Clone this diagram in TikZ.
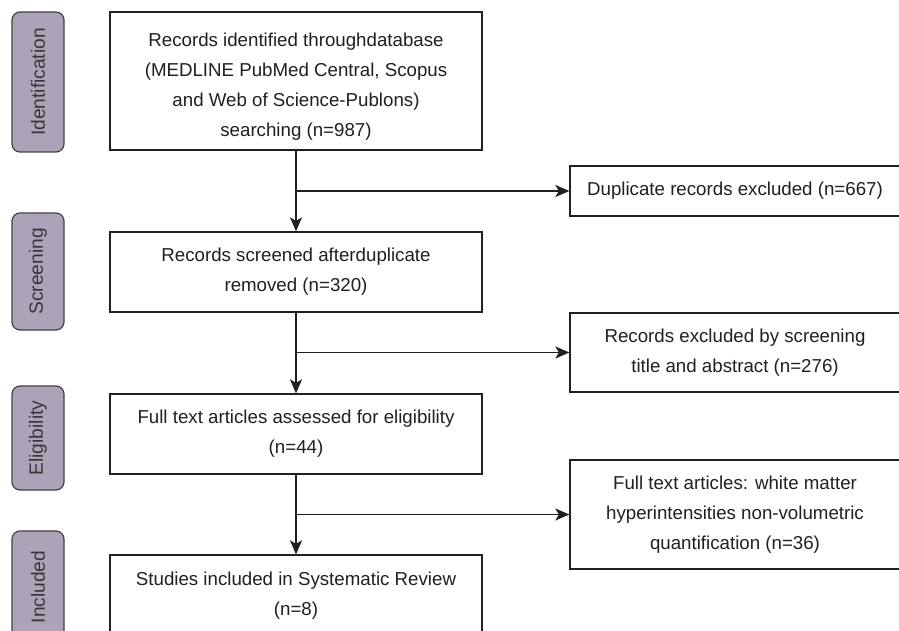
\documentclass[tikz,border=0pt]{standalone}
\usepackage{fontspec}
\setmainfont{Liberation Sans}
\usetikzlibrary{arrows.meta}
\definecolor{tabfill}{HTML}{ADA3B8}
\definecolor{ink}{HTML}{231F20}
\begin{document}
\begin{tikzpicture}[x=1pt,y=-1pt,
  box/.style={draw=ink, line width=1.3pt, text=ink, rectangle, inner sep=0pt,
    align=center, font=\fontsize{18.7}{30}\selectfont},
  tab/.style={draw=ink!85, fill=tabfill, rounded corners=8pt, line width=1.2pt,
    rotate=90, minimum height=52pt, inner sep=0pt, text=ink!90,
    font=\fontsize{19.2}{22}\selectfont},
  arr/.style={draw=ink, line width=1.4pt, -{Stealth[length=14pt,width=12pt,inset=3.5pt]}}]
\clip (0,0) rectangle (899,631);
\fill[white] (0,0) rectangle (899,631);
% phase tabs
\node[tab, minimum width=140pt] (t1) at (38,82) {Identification};
\node[tab, minimum width=117pt] (t2) at (38,271.5) {Screening};
\node[tab, minimum width=104pt] (t3) at (38,438) {Eligibility};
\node[tab, minimum width=112pt] (t4) at (38,587) {Included};
% main boxes
\node[box, minimum width=372pt, minimum height=138pt] (b1) at (296,81)
  {\rule{0pt}{24pt}Records identified throughdatabase\\(MEDLINE PubMed Central, Scopus\\and Web of Science-Publons)\\searching (n=987)};
\node[box, minimum width=372pt, minimum height=80pt] (b2) at (296,272)
  {Records screened afterduplicate\\removed (n=320)};
\node[box, minimum width=372pt, minimum height=80pt] (b3) at (296,434)
  {Full text articles assessed for eligibility\\(n=44)};
\node[box, minimum width=372pt, minimum height=82pt] (b4) at (296,596)
  {Studies included in Systematic Review\\(n=8)};
% exclusion boxes
\node[box, minimum width=330pt, minimum height=50pt] (d1) at (735,191)
  {Duplicate records excluded (n=667)};
\node[box, minimum width=330pt, minimum height=79pt] (d2) at (735,352.5)
  {Records excluded by screening\\title and abstract (n=276)};
\node[box, minimum width=330pt, minimum height=109pt] (d3) at (735,514.5)
  {Full text articles: white matter\\hyperintensities non-volumetric\\quantification (n=36)};
% connectors
\draw[arr] (b1.south) -- (b2.north);
\draw[arr] (b2.south) -- (b3.north);
\draw[arr] (b3.south) -- (b4.north);
\draw[arr] (b1.south |- d1.west) -- (d1.west);
\draw[arr] (b2.south |- d2.west) -- (d2.west);
\draw[arr] (b3.south |- d3.west) -- (d3.west);
\end{tikzpicture}
\end{document}
